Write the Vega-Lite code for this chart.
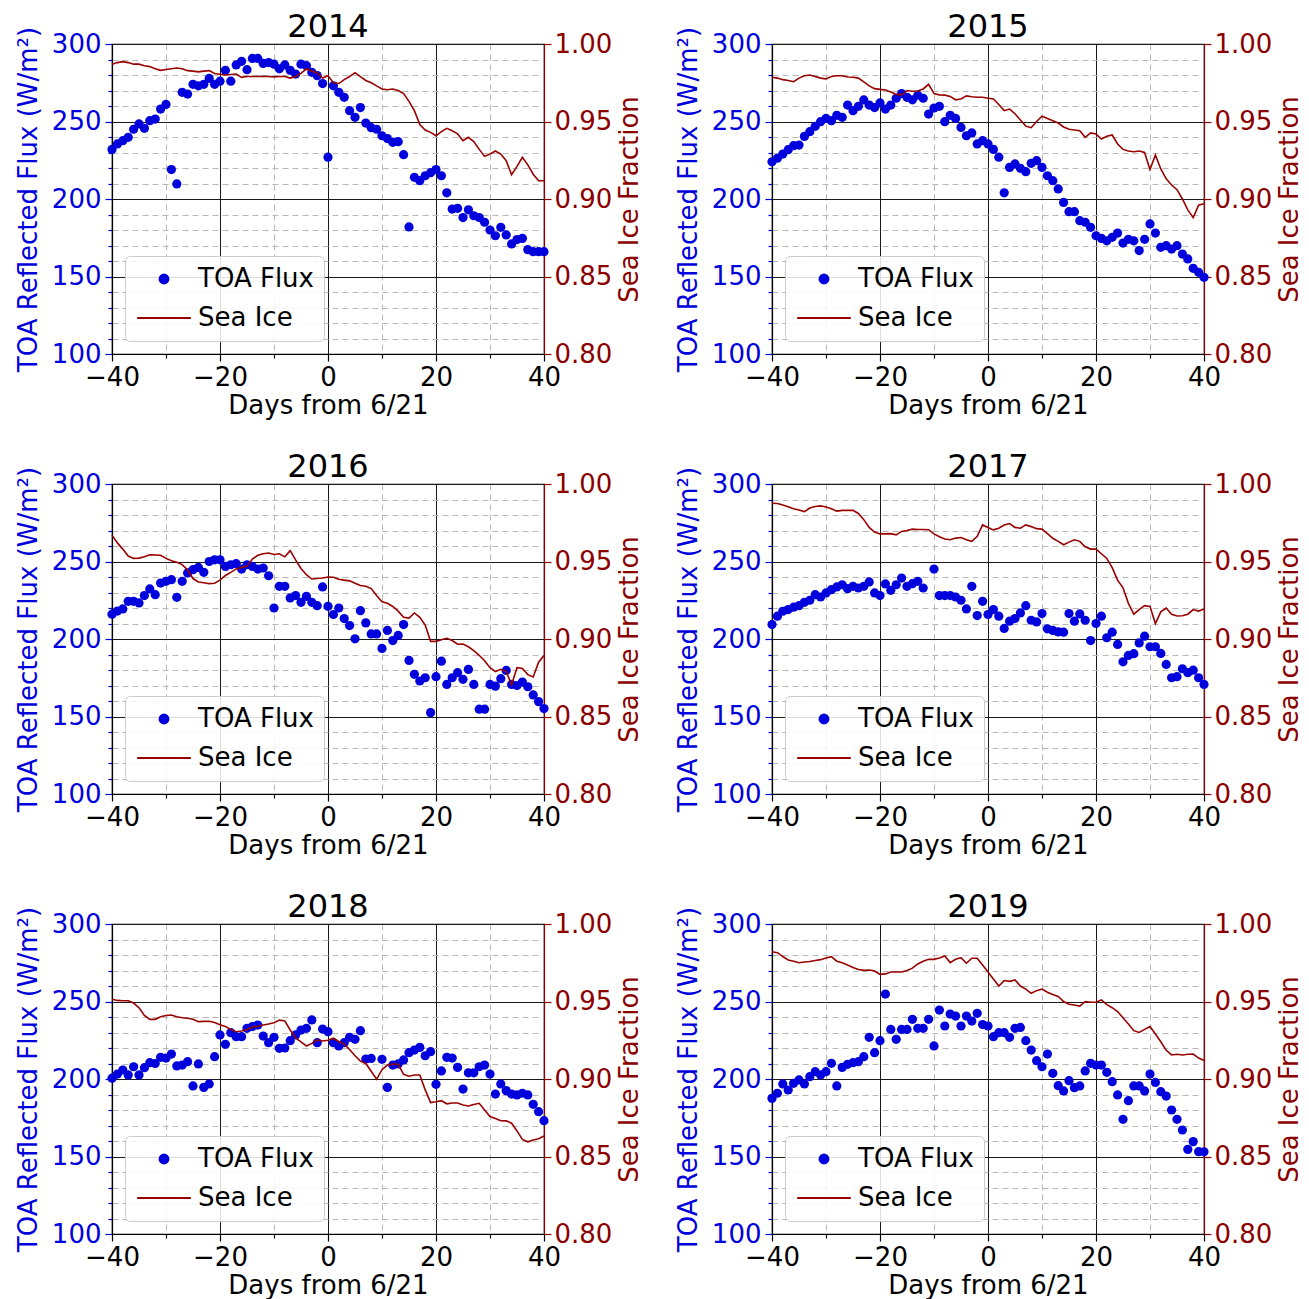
{
  "$schema": "https://vega.github.io/schema/vega-lite/v6.json",
  "background": "white",
  "padding": {"left": 14, "top": 10, "right": 4, "bottom": 0},
  "config": {
    "font": "DejaVu Sans",
    "view": {"stroke": "black", "strokeWidth": 1.2},
    "title": {"fontSize": 32, "fontWeight": "normal", "color": "black", "anchor": "middle", "offset": -18},
    "axis": {"labelFontSize": 26, "titleFontSize": 26, "titleFontWeight": "normal", "labelColor": "black", "titleColor": "black", "domainColor": "black", "tickColor": "black", "domainWidth": 1.2, "tickWidth": 1.2, "labelOverlap": false, "labelFlush": false}
  },
  "data": {"values": [
    {"yr":2014,"d":-40,"f":232,"s":0.987},{"yr":2014,"d":-39,"f":235.5,"s":0.988},{"yr":2014,"d":-38,"f":237.6,"s":0.9886},{"yr":2014,"d":-37,"f":239.8,"s":0.988},{"yr":2014,"d":-36,"f":245,"s":0.987},{"yr":2014,"d":-35,"f":248.4,"s":0.987},{"yr":2014,"d":-34,"f":245.6,"s":0.986},{"yr":2014,"d":-33,"f":250.5,"s":0.9854},{"yr":2014,"d":-32,"f":251.6,"s":0.984},{"yr":2014,"d":-31,"f":258,"s":0.983},{"yr":2014,"d":-30,"f":261,"s":0.9835},{"yr":2014,"d":-29,"f":219,"s":0.984},{"yr":2014,"d":-28,"f":209.7,"s":0.9845},{"yr":2014,"d":-27,"f":268.8,"s":0.984},{"yr":2014,"d":-26,"f":267.7,"s":0.9828},{"yr":2014,"d":-25,"f":274,"s":0.9825},{"yr":2014,"d":-24,"f":273,"s":0.982},{"yr":2014,"d":-23,"f":274,"s":0.9825},{"yr":2014,"d":-22,"f":277.8,"s":0.9828},{"yr":2014,"d":-21,"f":274,"s":0.981},{"yr":2014,"d":-20,"f":276,"s":0.9805},{"yr":2014,"d":-19,"f":283,"s":0.98},{"yr":2014,"d":-18,"f":276,"s":0.9803},{"yr":2014,"d":-17,"f":286.5,"s":0.9806},{"yr":2014,"d":-16,"f":288.8,"s":0.9785},{"yr":2014,"d":-15,"f":283.4,"s":0.979},{"yr":2014,"d":-14,"f":290.7,"s":0.979},{"yr":2014,"d":-13,"f":290.7,"s":0.979},{"yr":2014,"d":-12,"f":287.5,"s":0.9792},{"yr":2014,"d":-11,"f":288,"s":0.979},{"yr":2014,"d":-10,"f":287,"s":0.9788},{"yr":2014,"d":-9,"f":284,"s":0.979},{"yr":2014,"d":-8,"f":286.5,"s":0.979},{"yr":2014,"d":-7,"f":283,"s":0.978},{"yr":2014,"d":-6,"f":280.6,"s":0.979},{"yr":2014,"d":-5,"f":287,"s":0.981},{"yr":2014,"d":-4,"f":286,"s":0.984},{"yr":2014,"d":-3,"f":281.7,"s":0.9825},{"yr":2014,"d":-2,"f":279.6,"s":0.9815},{"yr":2014,"d":-1,"f":274.5,"s":0.978},{"yr":2014,"d":0,"f":227,"s":0.9795},{"yr":2014,"d":1,"f":273,"s":0.975},{"yr":2014,"d":2,"f":268.8,"s":0.9745},{"yr":2014,"d":3,"f":265.6,"s":0.977},{"yr":2014,"d":4,"f":257,"s":0.979},{"yr":2014,"d":5,"f":252.7,"s":0.9815},{"yr":2014,"d":6,"f":259,"s":0.979},{"yr":2014,"d":7,"f":249,"s":0.9765},{"yr":2014,"d":8,"f":246,"s":0.975},{"yr":2014,"d":9,"f":245,"s":0.973},{"yr":2014,"d":10,"f":240.8,"s":0.971},{"yr":2014,"d":11,"f":239,"s":0.9705},{"yr":2014,"d":12,"f":236.6,"s":0.971},{"yr":2014,"d":13,"f":237,"s":0.97},{"yr":2014,"d":14,"f":228.6,"s":0.968},{"yr":2014,"d":15,"f":182,"s":0.963},{"yr":2014,"d":16,"f":214,"s":0.957},{"yr":2014,"d":17,"f":211.8,"s":0.948},{"yr":2014,"d":18,"f":215,"s":0.9445},{"yr":2014,"d":19,"f":217,"s":0.943},{"yr":2014,"d":20,"f":219,"s":0.9408},{"yr":2014,"d":21,"f":215,"s":0.9435},{"yr":2014,"d":22,"f":204,"s":0.9456},{"yr":2014,"d":23,"f":193.5,"s":0.944},{"yr":2014,"d":24,"f":194,"s":0.942},{"yr":2014,"d":25,"f":188,"s":0.9376},{"yr":2014,"d":26,"f":193,"s":0.9398},{"yr":2014,"d":27,"f":189.2,"s":0.937},{"yr":2014,"d":28,"f":188,"s":0.932},{"yr":2014,"d":29,"f":185,"s":0.9275},{"yr":2014,"d":30,"f":180,"s":0.929},{"yr":2014,"d":31,"f":176.3,"s":0.931},{"yr":2014,"d":32,"f":181.7,"s":0.929},{"yr":2014,"d":33,"f":176.8,"s":0.9247},{"yr":2014,"d":34,"f":171,"s":0.9157},{"yr":2014,"d":35,"f":173.8,"s":0.921},{"yr":2014,"d":36,"f":174.6,"s":0.9269},{"yr":2014,"d":37,"f":167.3,"s":0.922},{"yr":2014,"d":38,"f":166,"s":0.916},{"yr":2014,"d":39,"f":166,"s":0.9118},{"yr":2014,"d":40,"f":166,"s":0.9118},

    {"yr":2015,"d":-40,"f":224,"s":0.9785},{"yr":2015,"d":-39,"f":226.3,"s":0.978},{"yr":2015,"d":-38,"f":229,"s":0.977},{"yr":2015,"d":-37,"f":231.8,"s":0.9765},{"yr":2015,"d":-36,"f":234.4,"s":0.9757},{"yr":2015,"d":-35,"f":234.8,"s":0.978},{"yr":2015,"d":-34,"f":240.4,"s":0.9795},{"yr":2015,"d":-33,"f":243.4,"s":0.98},{"yr":2015,"d":-32,"f":246.9,"s":0.979},{"yr":2015,"d":-31,"f":249.9,"s":0.978},{"yr":2015,"d":-30,"f":252,"s":0.9775},{"yr":2015,"d":-29,"f":250.5,"s":0.979},{"yr":2015,"d":-28,"f":254,"s":0.9795},{"yr":2015,"d":-27,"f":252.7,"s":0.9795},{"yr":2015,"d":-26,"f":260.6,"s":0.9787},{"yr":2015,"d":-25,"f":257,"s":0.9785},{"yr":2015,"d":-24,"f":259.8,"s":0.978},{"yr":2015,"d":-23,"f":263.9,"s":0.9755},{"yr":2015,"d":-22,"f":260.6,"s":0.973},{"yr":2015,"d":-21,"f":259,"s":0.9712},{"yr":2015,"d":-20,"f":262,"s":0.9707},{"yr":2015,"d":-19,"f":258,"s":0.9703},{"yr":2015,"d":-18,"f":260.6,"s":0.969},{"yr":2015,"d":-17,"f":265,"s":0.9675},{"yr":2015,"d":-16,"f":268,"s":0.9672},{"yr":2015,"d":-15,"f":265.6,"s":0.97},{"yr":2015,"d":-14,"f":264,"s":0.9695},{"yr":2015,"d":-13,"f":267,"s":0.9697},{"yr":2015,"d":-12,"f":265,"s":0.971},{"yr":2015,"d":-11,"f":254.8,"s":0.974},{"yr":2015,"d":-10,"f":258.7,"s":0.968},{"yr":2015,"d":-9,"f":259.8,"s":0.9672},{"yr":2015,"d":-8,"f":249.9,"s":0.967},{"yr":2015,"d":-7,"f":254,"s":0.9662},{"yr":2015,"d":-6,"f":252,"s":0.964},{"yr":2015,"d":-5,"f":246.2,"s":0.9645},{"yr":2015,"d":-4,"f":240.8,"s":0.9665},{"yr":2015,"d":-3,"f":242.6,"s":0.966},{"yr":2015,"d":-2,"f":235.5,"s":0.9656},{"yr":2015,"d":-1,"f":237.6,"s":0.9656},{"yr":2015,"d":0,"f":235.5,"s":0.965},{"yr":2015,"d":1,"f":232,"s":0.9645},{"yr":2015,"d":2,"f":227,"s":0.961},{"yr":2015,"d":3,"f":204,"s":0.957},{"yr":2015,"d":4,"f":220.4,"s":0.958},{"yr":2015,"d":5,"f":222.6,"s":0.955},{"yr":2015,"d":6,"f":219.8,"s":0.951},{"yr":2015,"d":7,"f":217.6,"s":0.947},{"yr":2015,"d":8,"f":223,"s":0.946},{"yr":2015,"d":9,"f":224.7,"s":0.95},{"yr":2015,"d":10,"f":220.4,"s":0.9534},{"yr":2015,"d":11,"f":215,"s":0.952},{"yr":2015,"d":12,"f":211.8,"s":0.9505},{"yr":2015,"d":13,"f":206.5,"s":0.949},{"yr":2015,"d":14,"f":197.8,"s":0.9465},{"yr":2015,"d":15,"f":191.8,"s":0.945},{"yr":2015,"d":16,"f":191.8,"s":0.9445},{"yr":2015,"d":17,"f":186,"s":0.944},{"yr":2015,"d":18,"f":185,"s":0.9398},{"yr":2015,"d":19,"f":181.7,"s":0.9426},{"yr":2015,"d":20,"f":176.3,"s":0.942},{"yr":2015,"d":21,"f":174.6,"s":0.9387},{"yr":2015,"d":22,"f":173,"s":0.9405},{"yr":2015,"d":23,"f":175.3,"s":0.9413},{"yr":2015,"d":24,"f":178,"s":0.9355},{"yr":2015,"d":25,"f":171.6,"s":0.932},{"yr":2015,"d":26,"f":174,"s":0.931},{"yr":2015,"d":27,"f":173,"s":0.9305},{"yr":2015,"d":28,"f":166.7,"s":0.931},{"yr":2015,"d":29,"f":174,"s":0.93},{"yr":2015,"d":30,"f":183.9,"s":0.919},{"yr":2015,"d":31,"f":178,"s":0.9284},{"yr":2015,"d":32,"f":168.8,"s":0.9194},{"yr":2015,"d":33,"f":169.9,"s":0.913},{"yr":2015,"d":34,"f":167.7,"s":0.909},{"yr":2015,"d":35,"f":169.9,"s":0.906},{"yr":2015,"d":36,"f":164.5,"s":0.9},{"yr":2015,"d":37,"f":161.3,"s":0.893},{"yr":2015,"d":38,"f":155.3,"s":0.888},{"yr":2015,"d":39,"f":152.7,"s":0.896},{"yr":2015,"d":40,"f":149.5,"s":0.897},

    {"yr":2016,"d":-40,"f":216,"s":0.967},{"yr":2016,"d":-39,"f":218,"s":0.962},{"yr":2016,"d":-38,"f":219.4,"s":0.958},{"yr":2016,"d":-37,"f":224.3,"s":0.9535},{"yr":2016,"d":-36,"f":224.3,"s":0.952},{"yr":2016,"d":-35,"f":223.3,"s":0.9522},{"yr":2016,"d":-34,"f":228,"s":0.953},{"yr":2016,"d":-33,"f":232.3,"s":0.9543},{"yr":2016,"d":-32,"f":228.6,"s":0.9542},{"yr":2016,"d":-31,"f":236.1,"s":0.954},{"yr":2016,"d":-30,"f":237.2,"s":0.952},{"yr":2016,"d":-29,"f":238.3,"s":0.9505},{"yr":2016,"d":-28,"f":226.9,"s":0.9495},{"yr":2016,"d":-27,"f":237.2,"s":0.948},{"yr":2016,"d":-26,"f":242.6,"s":0.9445},{"yr":2016,"d":-25,"f":244.7,"s":0.939},{"yr":2016,"d":-24,"f":246.2,"s":0.9368},{"yr":2016,"d":-23,"f":243,"s":0.9363},{"yr":2016,"d":-22,"f":250,"s":0.9357},{"yr":2016,"d":-21,"f":251.1,"s":0.936},{"yr":2016,"d":-20,"f":251.1,"s":0.938},{"yr":2016,"d":-19,"f":246.8,"s":0.941},{"yr":2016,"d":-18,"f":247.9,"s":0.943},{"yr":2016,"d":-17,"f":248.6,"s":0.9452},{"yr":2016,"d":-16,"f":245.1,"s":0.9462},{"yr":2016,"d":-15,"f":247.9,"s":0.947},{"yr":2016,"d":-14,"f":246.8,"s":0.9516},{"yr":2016,"d":-13,"f":245.1,"s":0.954},{"yr":2016,"d":-12,"f":245.8,"s":0.955},{"yr":2016,"d":-11,"f":240.8,"s":0.9555},{"yr":2016,"d":-10,"f":220,"s":0.9545},{"yr":2016,"d":-9,"f":234,"s":0.955},{"yr":2016,"d":-8,"f":234,"s":0.953},{"yr":2016,"d":-7,"f":226.5,"s":0.957},{"yr":2016,"d":-6,"f":228,"s":0.951},{"yr":2016,"d":-5,"f":223.7,"s":0.9455},{"yr":2016,"d":-4,"f":227.5,"s":0.9415},{"yr":2016,"d":-3,"f":223.7,"s":0.9387},{"yr":2016,"d":-2,"f":221.5,"s":0.939},{"yr":2016,"d":-1,"f":233.6,"s":0.9394},{"yr":2016,"d":0,"f":221.1,"s":0.94},{"yr":2016,"d":1,"f":215.8,"s":0.9398},{"yr":2016,"d":2,"f":220,"s":0.9385},{"yr":2016,"d":3,"f":213.2,"s":0.938},{"yr":2016,"d":4,"f":208.7,"s":0.9375},{"yr":2016,"d":5,"f":200.1,"s":0.936},{"yr":2016,"d":6,"f":218.3,"s":0.9345},{"yr":2016,"d":7,"f":210.4,"s":0.934},{"yr":2016,"d":8,"f":203.3,"s":0.9325},{"yr":2016,"d":9,"f":203.3,"s":0.928},{"yr":2016,"d":10,"f":193.9,"s":0.924},{"yr":2016,"d":11,"f":205.5,"s":0.923},{"yr":2016,"d":12,"f":199,"s":0.921},{"yr":2016,"d":13,"f":202.3,"s":0.918},{"yr":2016,"d":14,"f":209.3,"s":0.914},{"yr":2016,"d":15,"f":186.2,"s":0.9135},{"yr":2016,"d":16,"f":177.2,"s":0.9168},{"yr":2016,"d":17,"f":172.9,"s":0.914},{"yr":2016,"d":18,"f":175,"s":0.909},{"yr":2016,"d":19,"f":152.5,"s":0.8985},{"yr":2016,"d":20,"f":175.7,"s":0.8985},{"yr":2016,"d":21,"f":185.7,"s":0.8995},{"yr":2016,"d":22,"f":170.7,"s":0.9005},{"yr":2016,"d":23,"f":175,"s":0.899},{"yr":2016,"d":24,"f":178.3,"s":0.8966},{"yr":2016,"d":25,"f":174,"s":0.8967},{"yr":2016,"d":26,"f":180.4,"s":0.895},{"yr":2016,"d":27,"f":170.7,"s":0.8925},{"yr":2016,"d":28,"f":154.7,"s":0.8895},{"yr":2016,"d":29,"f":154.7,"s":0.886},{"yr":2016,"d":30,"f":170.7,"s":0.8815},{"yr":2016,"d":31,"f":169.6,"s":0.879},{"yr":2016,"d":32,"f":174.4,"s":0.8804},{"yr":2016,"d":33,"f":179.7,"s":0.879},{"yr":2016,"d":34,"f":170.7,"s":0.8705},{"yr":2016,"d":35,"f":170,"s":0.8815},{"yr":2016,"d":36,"f":172.2,"s":0.881},{"yr":2016,"d":37,"f":169.2,"s":0.877},{"yr":2016,"d":38,"f":163.9,"s":0.8755},{"yr":2016,"d":39,"f":159.6,"s":0.885},{"yr":2016,"d":40,"f":155.1,"s":0.8894},

    {"yr":2017,"d":-40,"f":209.3,"s":0.9876},{"yr":2017,"d":-39,"f":214.7,"s":0.9874},{"yr":2017,"d":-38,"f":217.9,"s":0.9865},{"yr":2017,"d":-37,"f":219,"s":0.9853},{"yr":2017,"d":-36,"f":220.5,"s":0.984},{"yr":2017,"d":-35,"f":221.5,"s":0.9832},{"yr":2017,"d":-34,"f":223.7,"s":0.9822},{"yr":2017,"d":-33,"f":225,"s":0.9845},{"yr":2017,"d":-32,"f":228.6,"s":0.9855},{"yr":2017,"d":-31,"f":227.1,"s":0.9859},{"yr":2017,"d":-30,"f":229.7,"s":0.9852},{"yr":2017,"d":-29,"f":231.8,"s":0.984},{"yr":2017,"d":-28,"f":233.6,"s":0.9825},{"yr":2017,"d":-27,"f":235,"s":0.983},{"yr":2017,"d":-26,"f":232.5,"s":0.983},{"yr":2017,"d":-25,"f":234,"s":0.983},{"yr":2017,"d":-24,"f":232.9,"s":0.981},{"yr":2017,"d":-23,"f":234,"s":0.977},{"yr":2017,"d":-22,"f":236.8,"s":0.972},{"yr":2017,"d":-21,"f":229.7,"s":0.969},{"yr":2017,"d":-20,"f":228,"s":0.9678},{"yr":2017,"d":-19,"f":235.5,"s":0.9678},{"yr":2017,"d":-18,"f":231.4,"s":0.968},{"yr":2017,"d":-17,"f":235,"s":0.9672},{"yr":2017,"d":-16,"f":239.3,"s":0.9694},{"yr":2017,"d":-15,"f":234,"s":0.97},{"yr":2017,"d":-14,"f":235.7,"s":0.9709},{"yr":2017,"d":-13,"f":237.2,"s":0.9706},{"yr":2017,"d":-12,"f":232.9,"s":0.9706},{"yr":2017,"d":-11,"s":0.9705},{"yr":2017,"d":-10,"f":245.1,"s":0.9678},{"yr":2017,"d":-9,"f":228,"s":0.966},{"yr":2017,"d":-8,"f":228,"s":0.9645},{"yr":2017,"d":-7,"f":228,"s":0.964},{"yr":2017,"d":-6,"f":227.1,"s":0.9651},{"yr":2017,"d":-5,"f":225,"s":0.9655},{"yr":2017,"d":-4,"f":219.4,"s":0.964},{"yr":2017,"d":-3,"f":234,"s":0.963},{"yr":2017,"d":-2,"f":215.1,"s":0.9663},{"yr":2017,"d":-1,"f":224.3,"s":0.9736},{"yr":2017,"d":0,"f":215.8,"s":0.972},{"yr":2017,"d":1,"f":219,"s":0.9704},{"yr":2017,"d":2,"f":214.7,"s":0.9715},{"yr":2017,"d":3,"f":206.8,"s":0.9735},{"yr":2017,"d":4,"f":211.5,"s":0.9745},{"yr":2017,"d":5,"f":213.2,"s":0.972},{"yr":2017,"d":6,"f":216.8,"s":0.9715},{"yr":2017,"d":7,"f":221.5,"s":0.9736},{"yr":2017,"d":8,"f":212.1,"s":0.9725},{"yr":2017,"d":9,"f":211,"s":0.9712},{"yr":2017,"d":10,"f":216.4,"s":0.9709},{"yr":2017,"d":11,"f":206.6,"s":0.968},{"yr":2017,"d":12,"f":205.5,"s":0.965},{"yr":2017,"d":13,"f":204.6,"s":0.963},{"yr":2017,"d":14,"f":204.4,"s":0.9608},{"yr":2017,"d":15,"f":216.4,"s":0.9625},{"yr":2017,"d":16,"f":211.5,"s":0.964},{"yr":2017,"d":17,"f":216.2,"s":0.963},{"yr":2017,"d":18,"f":212.1,"s":0.9595},{"yr":2017,"d":19,"f":199,"s":0.958},{"yr":2017,"d":20,"f":210,"s":0.958},{"yr":2017,"d":21,"f":214.7,"s":0.955},{"yr":2017,"d":22,"f":200.8,"s":0.952},{"yr":2017,"d":23,"f":204.4,"s":0.946},{"yr":2017,"d":24,"f":196.5,"s":0.938},{"yr":2017,"d":25,"f":185.3,"s":0.933},{"yr":2017,"d":26,"f":189.4,"s":0.923},{"yr":2017,"d":27,"f":190.5,"s":0.916},{"yr":2017,"d":28,"f":197.5,"s":0.919},{"yr":2017,"d":29,"f":201.8,"s":0.9215},{"yr":2017,"d":30,"f":195,"s":0.921},{"yr":2017,"d":31,"f":195,"s":0.91},{"yr":2017,"d":32,"f":190.7,"s":0.9175},{"yr":2017,"d":33,"f":183.6,"s":0.92},{"yr":2017,"d":34,"f":175,"s":0.916},{"yr":2017,"d":35,"f":175.7,"s":0.9148},{"yr":2017,"d":36,"f":180.8,"s":0.915},{"yr":2017,"d":37,"f":178.3,"s":0.916},{"yr":2017,"d":38,"f":179.9,"s":0.919},{"yr":2017,"d":39,"f":175,"s":0.918},{"yr":2017,"d":40,"f":170.7,"s":0.9193},

    {"yr":2018,"d":-40,"f":200.5,"s":0.9514},{"yr":2018,"d":-39,"f":203.2,"s":0.9507},{"yr":2018,"d":-38,"f":205.8,"s":0.9505},{"yr":2018,"d":-37,"f":202.6,"s":0.9505},{"yr":2018,"d":-36,"f":207.9,"s":0.949},{"yr":2018,"d":-35,"f":202.6,"s":0.946},{"yr":2018,"d":-34,"f":207.3,"s":0.941},{"yr":2018,"d":-33,"f":210.5,"s":0.9385},{"yr":2018,"d":-32,"f":210,"s":0.9385},{"yr":2018,"d":-31,"f":214,"s":0.9402},{"yr":2018,"d":-30,"f":213.5,"s":0.941},{"yr":2018,"d":-29,"f":216.1,"s":0.9413},{"yr":2018,"d":-28,"f":208.4,"s":0.9402},{"yr":2018,"d":-27,"f":209,"s":0.9395},{"yr":2018,"d":-26,"f":211.2,"s":0.9392},{"yr":2018,"d":-25,"f":195.5,"s":0.9385},{"yr":2018,"d":-24,"f":209.7,"s":0.937},{"yr":2018,"d":-23,"f":194.6,"s":0.9372},{"yr":2018,"d":-22,"f":196.8,"s":0.9373},{"yr":2018,"d":-21,"f":214.4,"s":0.9365},{"yr":2018,"d":-20,"f":228.4,"s":0.935},{"yr":2018,"d":-19,"f":222.4,"s":0.9338},{"yr":2018,"d":-18,"f":229.9,"s":0.932},{"yr":2018,"d":-17,"f":227.3,"s":0.9305},{"yr":2018,"d":-16,"f":227.3,"s":0.931},{"yr":2018,"d":-15,"f":232.7,"s":0.932},{"yr":2018,"d":-14,"f":233.8,"s":0.9335},{"yr":2018,"d":-13,"f":234.8,"s":0.934},{"yr":2018,"d":-12,"f":227.7,"s":0.9348},{"yr":2018,"d":-11,"f":223.4,"s":0.9355},{"yr":2018,"d":-10,"f":226.9,"s":0.9363},{"yr":2018,"d":-9,"f":219.8,"s":0.938},{"yr":2018,"d":-8,"f":220,"s":0.9375},{"yr":2018,"d":-7,"f":224.7,"s":0.9316},{"yr":2018,"d":-6,"f":228.4,"s":0.9265},{"yr":2018,"d":-5,"f":231.6,"s":0.924},{"yr":2018,"d":-4,"f":232.7,"s":0.9213},{"yr":2018,"d":-3,"f":238.1,"s":0.923},{"yr":2018,"d":-2,"f":223.4,"s":0.9252},{"yr":2018,"d":-1,"f":232.2,"s":0.9245},{"yr":2018,"d":0,"f":230.5,"s":0.925},{"yr":2018,"d":1,"f":223.4,"s":0.9263},{"yr":2018,"d":2,"f":221.3,"s":0.9242},{"yr":2018,"d":3,"f":223.4,"s":0.9225},{"yr":2018,"d":4,"f":226.9,"s":0.919},{"yr":2018,"d":5,"f":225.6,"s":0.915},{"yr":2018,"d":6,"f":231.2,"s":0.9115},{"yr":2018,"d":7,"f":212.9,"s":0.91},{"yr":2018,"d":8,"f":213.3,"s":0.905},{"yr":2018,"d":9,"s":0.8998},{"yr":2018,"d":10,"f":212.7,"s":0.906},{"yr":2018,"d":11,"f":194.6,"s":0.909},{"yr":2018,"d":12,"f":209,"s":0.9097},{"yr":2018,"d":13,"f":209.7,"s":0.9095},{"yr":2018,"d":14,"f":212.3,"s":0.903},{"yr":2018,"d":15,"f":217,"s":0.9018},{"yr":2018,"d":16,"f":218.7,"s":0.9026},{"yr":2018,"d":17,"f":220.4,"s":0.9026},{"yr":2018,"d":18,"f":215,"s":0.893},{"yr":2018,"d":19,"f":217.6,"s":0.8848},{"yr":2018,"d":20,"f":196.6,"s":0.8853},{"yr":2018,"d":21,"f":205.2,"s":0.886},{"yr":2018,"d":22,"f":214,"s":0.884},{"yr":2018,"d":23,"f":213.5,"s":0.8845},{"yr":2018,"d":24,"f":207.5,"s":0.8845},{"yr":2018,"d":25,"f":193.5,"s":0.8832},{"yr":2018,"d":26,"f":204,"s":0.8826},{"yr":2018,"d":27,"f":204,"s":0.8835},{"yr":2018,"d":28,"f":207.9,"s":0.8843},{"yr":2018,"d":29,"f":209,"s":0.88},{"yr":2018,"d":30,"f":203.2,"s":0.8758},{"yr":2018,"d":31,"f":190.3,"s":0.8745},{"yr":2018,"d":32,"f":196.8,"s":0.8731},{"yr":2018,"d":33,"f":192.5,"s":0.873},{"yr":2018,"d":34,"f":190.3,"s":0.8715},{"yr":2018,"d":35,"f":189.7,"s":0.8665},{"yr":2018,"d":36,"f":190.8,"s":0.861},{"yr":2018,"d":37,"f":189.7,"s":0.8595},{"yr":2018,"d":38,"f":183.7,"s":0.8606},{"yr":2018,"d":39,"f":178.9,"s":0.8615},{"yr":2018,"d":40,"f":173.1,"s":0.8632},

    {"yr":2019,"d":-40,"f":187.5,"s":0.9821},{"yr":2019,"d":-39,"f":190.8,"s":0.9815},{"yr":2019,"d":-38,"f":196.8,"s":0.979},{"yr":2019,"d":-37,"f":192.9,"s":0.9768},{"yr":2019,"d":-36,"f":197.2,"s":0.976},{"yr":2019,"d":-35,"f":199.4,"s":0.975},{"yr":2019,"d":-34,"f":196.8,"s":0.9755},{"yr":2019,"d":-33,"f":201.5,"s":0.9758},{"yr":2019,"d":-32,"f":204.7,"s":0.9765},{"yr":2019,"d":-31,"f":202.6,"s":0.977},{"yr":2019,"d":-30,"f":204.7,"s":0.978},{"yr":2019,"d":-29,"f":210.1,"s":0.9789},{"yr":2019,"d":-28,"f":195.5,"s":0.976},{"yr":2019,"d":-27,"f":207.5,"s":0.975},{"yr":2019,"d":-26,"f":209.5,"s":0.9735},{"yr":2019,"d":-25,"f":210.5,"s":0.972},{"yr":2019,"d":-24,"f":211.2,"s":0.9706},{"yr":2019,"d":-23,"f":214.4,"s":0.9701},{"yr":2019,"d":-22,"f":226.9,"s":0.9703},{"yr":2019,"d":-21,"f":217,"s":0.9697},{"yr":2019,"d":-20,"f":224.7,"s":0.9675},{"yr":2019,"d":-19,"f":254.8,"s":0.9678},{"yr":2019,"d":-18,"f":232,"s":0.969},{"yr":2019,"d":-17,"f":225.6,"s":0.969},{"yr":2019,"d":-16,"f":232,"s":0.969},{"yr":2019,"d":-15,"f":232,"s":0.97},{"yr":2019,"d":-14,"f":238.5,"s":0.9715},{"yr":2019,"d":-13,"f":232.7,"s":0.9742},{"yr":2019,"d":-12,"f":232.7,"s":0.976},{"yr":2019,"d":-11,"f":238.5,"s":0.9772},{"yr":2019,"d":-10,"f":221.3,"s":0.9772},{"yr":2019,"d":-9,"f":244.5,"s":0.978},{"yr":2019,"d":-8,"f":234.2,"s":0.9794},{"yr":2019,"d":-7,"f":241.9,"s":0.9751},{"yr":2019,"d":-6,"f":240.6,"s":0.9772},{"yr":2019,"d":-5,"f":234.2,"s":0.9783},{"yr":2019,"d":-4,"f":240.6,"s":0.9747},{"yr":2019,"d":-3,"f":237.4,"s":0.9779},{"yr":2019,"d":-2,"f":242.4,"s":0.9779},{"yr":2019,"d":-1,"f":235.1,"s":0.9735},{"yr":2019,"d":0,"f":234.2,"s":0.969},{"yr":2019,"d":1,"f":227.3,"s":0.9645},{"yr":2019,"d":2,"f":229.9,"s":0.96},{"yr":2019,"d":3,"f":229.9,"s":0.9635},{"yr":2019,"d":4,"f":226.9,"s":0.963},{"yr":2019,"d":5,"f":232.7,"s":0.9639},{"yr":2019,"d":6,"f":233.3,"s":0.96},{"yr":2019,"d":7,"f":224.7,"s":0.958},{"yr":2019,"d":8,"f":218.7,"s":0.9553},{"yr":2019,"d":9,"f":211.8,"s":0.957},{"yr":2019,"d":10,"f":207.9,"s":0.958},{"yr":2019,"d":11,"f":216.1,"s":0.956},{"yr":2019,"d":12,"f":203.7,"s":0.9545},{"yr":2019,"d":13,"f":195.7,"s":0.9533},{"yr":2019,"d":14,"f":192.3,"s":0.95},{"yr":2019,"d":15,"f":198.9,"s":0.9482},{"yr":2019,"d":16,"f":194.4,"s":0.9477},{"yr":2019,"d":17,"f":195.5,"s":0.947},{"yr":2019,"d":18,"f":205.2,"s":0.95},{"yr":2019,"d":19,"f":210.1,"s":0.9495},{"yr":2019,"d":20,"f":209,"s":0.9495},{"yr":2019,"d":21,"f":209,"s":0.951},{"yr":2019,"d":22,"f":204.3,"s":0.948},{"yr":2019,"d":23,"f":198.3,"s":0.946},{"yr":2019,"d":24,"f":189.7,"s":0.9435},{"yr":2019,"d":25,"f":174,"s":0.9395},{"yr":2019,"d":26,"f":186,"s":0.9355},{"yr":2019,"d":27,"f":195.5,"s":0.9312},{"yr":2019,"d":28,"f":195.5,"s":0.93},{"yr":2019,"d":29,"f":192.3,"s":0.932},{"yr":2019,"d":30,"f":203.2,"s":0.9338},{"yr":2019,"d":31,"f":197.8,"s":0.929},{"yr":2019,"d":32,"f":191.8,"s":0.924},{"yr":2019,"d":33,"f":189,"s":0.9185},{"yr":2019,"d":34,"f":180,"s":0.9155},{"yr":2019,"d":35,"f":174,"s":0.916},{"yr":2019,"d":36,"f":167.1,"s":0.9155},{"yr":2019,"d":37,"f":154.6,"s":0.916},{"yr":2019,"d":38,"f":159.6,"s":0.9161},{"yr":2019,"d":39,"f":153.1,"s":0.9135},{"yr":2019,"d":40,"f":153,"s":0.912}
  ]},
  "columns": 2,
  "spacing": {"row": 31, "column": 30},
  "resolve": {"scale": {"color": "independent"}},
  "concat": [
    {
      "title": "2014", "width": 432, "height": 310,
      "transform": [{"filter": "datum.yr === 2014"}],
      "layer": [
        {"mark": {"type": "circle", "size": 85, "opacity": 1},
         "encoding": {
           "x": {"field": "d", "type": "quantitative", "scale": {"domain": [-40, 40], "nice": false},
                 "axis": {"title": "Days from 6/21", "values": [-40,-35,-30,-25,-20,-15,-10,-5,0,5,10,15,20,25,30,35,40], "labelExpr": "datum.value % 20 === 0 ? replace(datum.label, '-', '−') : ''", "grid": true, "gridColor": {"condition": {"test": "datum.value % 20 === 0", "value": "#1a1a1a"}, "value": "#b8b8b8"}, "gridDash": {"condition": {"test": "datum.value % 20 === 0", "value": []}, "value": [6, 4]}, "tickSize": {"condition": {"test": "datum.value % 20 === 0", "value": 7}, "value": 4}, "labelPadding": 3, "titlePadding": 2}},
           "y": {"field": "f", "type": "quantitative", "scale": {"domain": [100, 300], "nice": false, "zero": false},
                 "axis": {"title": "TOA Reflected Flux (W/m²)", "titleColor": "#0000dd", "labelColor": "#0000dd", "tickColor": "#0000dd", "values": [100,110,120,130,140,150,160,170,180,190,200,210,220,230,240,250,260,270,280,290,300], "labelExpr": "datum.value % 50 === 0 ? datum.label : ''", "grid": true, "gridColor": {"condition": {"test": "datum.value % 50 === 0", "value": "#1a1a1a"}, "value": "#b8b8b8"}, "gridDash": {"condition": {"test": "datum.value % 50 === 0", "value": []}, "value": [6, 4]}, "tickSize": {"condition": {"test": "datum.value % 50 === 0", "value": 7}, "value": 4}, "labelPadding": 4, "titlePadding": 10}},
           "color": {"datum": "TOA Flux", "scale": {"domain": ["TOA Flux", "Sea Ice"], "range": ["#0000dd", "#990000"]},
                     "legend": {"title": null, "orient": "bottom-left", "offset": 13, "padding": 10, "rowPadding": 13, "labelFontSize": 26, "labelColor": "black", "symbolOffset": 16, "labelOffset": 21, "symbolSize": 80, "fillColor": "rgba(255,255,255,0.85)", "strokeColor": "#cccccc", "cornerRadius": 5, "labelLimit": 300,
                                "encoding": {"symbols": {"shape": {"condition": {"test": "datum.value === 'Sea Ice'", "value": "M-6,0H6"}, "value": "circle"}, "fill": {"condition": {"test": "datum.value === 'Sea Ice'", "value": "transparent"}, "value": "#0000dd"}, "stroke": {"condition": {"test": "datum.value === 'Sea Ice'", "value": "#990000"}, "value": "transparent"}, "strokeWidth": {"value": 2}, "size": {"value": 80}, "opacity": {"value": 1}}}}}
         }},
        {"mark": {"type": "line", "strokeWidth": 1.6},
         "encoding": {
           "x": {"field": "d", "type": "quantitative"},
           "y": {"field": "s", "type": "quantitative", "scale": {"domain": [0.8, 1.0], "nice": false, "zero": false},
                 "axis": {"orient": "right", "title": "Sea Ice Fraction", "titleAngle": 270, "titleBaseline": "top", "titleColor": "#8b0000", "labelColor": "#8b0000", "tickColor": "#8b0000", "domainColor": "#8b0000", "values": [0.8, 0.85, 0.9, 0.95, 1.0], "format": ".2f", "grid": false, "tickSize": 7, "labelPadding": 3, "titlePadding": 5}},
           "color": {"datum": "Sea Ice"}
         }}
      ],
      "resolve": {"scale": {"y": "independent"}}
    },
    {
      "title": "2015", "width": 432, "height": 310,
      "transform": [{"filter": "datum.yr === 2015"}],
      "layer": [
        {"mark": {"type": "circle", "size": 85, "opacity": 1},
         "encoding": {
           "x": {"field": "d", "type": "quantitative", "scale": {"domain": [-40, 40], "nice": false},
                 "axis": {"title": "Days from 6/21", "values": [-40,-35,-30,-25,-20,-15,-10,-5,0,5,10,15,20,25,30,35,40], "labelExpr": "datum.value % 20 === 0 ? replace(datum.label, '-', '−') : ''", "grid": true, "gridColor": {"condition": {"test": "datum.value % 20 === 0", "value": "#1a1a1a"}, "value": "#b8b8b8"}, "gridDash": {"condition": {"test": "datum.value % 20 === 0", "value": []}, "value": [6, 4]}, "tickSize": {"condition": {"test": "datum.value % 20 === 0", "value": 7}, "value": 4}, "labelPadding": 3, "titlePadding": 2}},
           "y": {"field": "f", "type": "quantitative", "scale": {"domain": [100, 300], "nice": false, "zero": false},
                 "axis": {"title": "TOA Reflected Flux (W/m²)", "titleColor": "#0000dd", "labelColor": "#0000dd", "tickColor": "#0000dd", "values": [100,110,120,130,140,150,160,170,180,190,200,210,220,230,240,250,260,270,280,290,300], "labelExpr": "datum.value % 50 === 0 ? datum.label : ''", "grid": true, "gridColor": {"condition": {"test": "datum.value % 50 === 0", "value": "#1a1a1a"}, "value": "#b8b8b8"}, "gridDash": {"condition": {"test": "datum.value % 50 === 0", "value": []}, "value": [6, 4]}, "tickSize": {"condition": {"test": "datum.value % 50 === 0", "value": 7}, "value": 4}, "labelPadding": 4, "titlePadding": 10}},
           "color": {"datum": "TOA Flux", "scale": {"domain": ["TOA Flux", "Sea Ice"], "range": ["#0000dd", "#990000"]},
                     "legend": {"title": null, "orient": "bottom-left", "offset": 13, "padding": 10, "rowPadding": 13, "labelFontSize": 26, "labelColor": "black", "symbolOffset": 16, "labelOffset": 21, "symbolSize": 80, "fillColor": "rgba(255,255,255,0.85)", "strokeColor": "#cccccc", "cornerRadius": 5, "labelLimit": 300,
                                "encoding": {"symbols": {"shape": {"condition": {"test": "datum.value === 'Sea Ice'", "value": "M-6,0H6"}, "value": "circle"}, "fill": {"condition": {"test": "datum.value === 'Sea Ice'", "value": "transparent"}, "value": "#0000dd"}, "stroke": {"condition": {"test": "datum.value === 'Sea Ice'", "value": "#990000"}, "value": "transparent"}, "strokeWidth": {"value": 2}, "size": {"value": 80}, "opacity": {"value": 1}}}}}
         }},
        {"mark": {"type": "line", "strokeWidth": 1.6},
         "encoding": {
           "x": {"field": "d", "type": "quantitative"},
           "y": {"field": "s", "type": "quantitative", "scale": {"domain": [0.8, 1.0], "nice": false, "zero": false},
                 "axis": {"orient": "right", "title": "Sea Ice Fraction", "titleAngle": 270, "titleBaseline": "top", "titleColor": "#8b0000", "labelColor": "#8b0000", "tickColor": "#8b0000", "domainColor": "#8b0000", "values": [0.8, 0.85, 0.9, 0.95, 1.0], "format": ".2f", "grid": false, "tickSize": 7, "labelPadding": 3, "titlePadding": 5}},
           "color": {"datum": "Sea Ice"}
         }}
      ],
      "resolve": {"scale": {"y": "independent"}}
    },
    {
      "title": "2016", "width": 432, "height": 310,
      "transform": [{"filter": "datum.yr === 2016"}],
      "layer": [
        {"mark": {"type": "circle", "size": 85, "opacity": 1},
         "encoding": {
           "x": {"field": "d", "type": "quantitative", "scale": {"domain": [-40, 40], "nice": false},
                 "axis": {"title": "Days from 6/21", "values": [-40,-35,-30,-25,-20,-15,-10,-5,0,5,10,15,20,25,30,35,40], "labelExpr": "datum.value % 20 === 0 ? replace(datum.label, '-', '−') : ''", "grid": true, "gridColor": {"condition": {"test": "datum.value % 20 === 0", "value": "#1a1a1a"}, "value": "#b8b8b8"}, "gridDash": {"condition": {"test": "datum.value % 20 === 0", "value": []}, "value": [6, 4]}, "tickSize": {"condition": {"test": "datum.value % 20 === 0", "value": 7}, "value": 4}, "labelPadding": 3, "titlePadding": 2}},
           "y": {"field": "f", "type": "quantitative", "scale": {"domain": [100, 300], "nice": false, "zero": false},
                 "axis": {"title": "TOA Reflected Flux (W/m²)", "titleColor": "#0000dd", "labelColor": "#0000dd", "tickColor": "#0000dd", "values": [100,110,120,130,140,150,160,170,180,190,200,210,220,230,240,250,260,270,280,290,300], "labelExpr": "datum.value % 50 === 0 ? datum.label : ''", "grid": true, "gridColor": {"condition": {"test": "datum.value % 50 === 0", "value": "#1a1a1a"}, "value": "#b8b8b8"}, "gridDash": {"condition": {"test": "datum.value % 50 === 0", "value": []}, "value": [6, 4]}, "tickSize": {"condition": {"test": "datum.value % 50 === 0", "value": 7}, "value": 4}, "labelPadding": 4, "titlePadding": 10}},
           "color": {"datum": "TOA Flux", "scale": {"domain": ["TOA Flux", "Sea Ice"], "range": ["#0000dd", "#990000"]},
                     "legend": {"title": null, "orient": "bottom-left", "offset": 13, "padding": 10, "rowPadding": 13, "labelFontSize": 26, "labelColor": "black", "symbolOffset": 16, "labelOffset": 21, "symbolSize": 80, "fillColor": "rgba(255,255,255,0.85)", "strokeColor": "#cccccc", "cornerRadius": 5, "labelLimit": 300,
                                "encoding": {"symbols": {"shape": {"condition": {"test": "datum.value === 'Sea Ice'", "value": "M-6,0H6"}, "value": "circle"}, "fill": {"condition": {"test": "datum.value === 'Sea Ice'", "value": "transparent"}, "value": "#0000dd"}, "stroke": {"condition": {"test": "datum.value === 'Sea Ice'", "value": "#990000"}, "value": "transparent"}, "strokeWidth": {"value": 2}, "size": {"value": 80}, "opacity": {"value": 1}}}}}
         }},
        {"mark": {"type": "line", "strokeWidth": 1.6},
         "encoding": {
           "x": {"field": "d", "type": "quantitative"},
           "y": {"field": "s", "type": "quantitative", "scale": {"domain": [0.8, 1.0], "nice": false, "zero": false},
                 "axis": {"orient": "right", "title": "Sea Ice Fraction", "titleAngle": 270, "titleBaseline": "top", "titleColor": "#8b0000", "labelColor": "#8b0000", "tickColor": "#8b0000", "domainColor": "#8b0000", "values": [0.8, 0.85, 0.9, 0.95, 1.0], "format": ".2f", "grid": false, "tickSize": 7, "labelPadding": 3, "titlePadding": 5}},
           "color": {"datum": "Sea Ice"}
         }}
      ],
      "resolve": {"scale": {"y": "independent"}}
    },
    {
      "title": "2017", "width": 432, "height": 310,
      "transform": [{"filter": "datum.yr === 2017"}],
      "layer": [
        {"mark": {"type": "circle", "size": 85, "opacity": 1},
         "encoding": {
           "x": {"field": "d", "type": "quantitative", "scale": {"domain": [-40, 40], "nice": false},
                 "axis": {"title": "Days from 6/21", "values": [-40,-35,-30,-25,-20,-15,-10,-5,0,5,10,15,20,25,30,35,40], "labelExpr": "datum.value % 20 === 0 ? replace(datum.label, '-', '−') : ''", "grid": true, "gridColor": {"condition": {"test": "datum.value % 20 === 0", "value": "#1a1a1a"}, "value": "#b8b8b8"}, "gridDash": {"condition": {"test": "datum.value % 20 === 0", "value": []}, "value": [6, 4]}, "tickSize": {"condition": {"test": "datum.value % 20 === 0", "value": 7}, "value": 4}, "labelPadding": 3, "titlePadding": 2}},
           "y": {"field": "f", "type": "quantitative", "scale": {"domain": [100, 300], "nice": false, "zero": false},
                 "axis": {"title": "TOA Reflected Flux (W/m²)", "titleColor": "#0000dd", "labelColor": "#0000dd", "tickColor": "#0000dd", "values": [100,110,120,130,140,150,160,170,180,190,200,210,220,230,240,250,260,270,280,290,300], "labelExpr": "datum.value % 50 === 0 ? datum.label : ''", "grid": true, "gridColor": {"condition": {"test": "datum.value % 50 === 0", "value": "#1a1a1a"}, "value": "#b8b8b8"}, "gridDash": {"condition": {"test": "datum.value % 50 === 0", "value": []}, "value": [6, 4]}, "tickSize": {"condition": {"test": "datum.value % 50 === 0", "value": 7}, "value": 4}, "labelPadding": 4, "titlePadding": 10}},
           "color": {"datum": "TOA Flux", "scale": {"domain": ["TOA Flux", "Sea Ice"], "range": ["#0000dd", "#990000"]},
                     "legend": {"title": null, "orient": "bottom-left", "offset": 13, "padding": 10, "rowPadding": 13, "labelFontSize": 26, "labelColor": "black", "symbolOffset": 16, "labelOffset": 21, "symbolSize": 80, "fillColor": "rgba(255,255,255,0.85)", "strokeColor": "#cccccc", "cornerRadius": 5, "labelLimit": 300,
                                "encoding": {"symbols": {"shape": {"condition": {"test": "datum.value === 'Sea Ice'", "value": "M-6,0H6"}, "value": "circle"}, "fill": {"condition": {"test": "datum.value === 'Sea Ice'", "value": "transparent"}, "value": "#0000dd"}, "stroke": {"condition": {"test": "datum.value === 'Sea Ice'", "value": "#990000"}, "value": "transparent"}, "strokeWidth": {"value": 2}, "size": {"value": 80}, "opacity": {"value": 1}}}}}
         }},
        {"mark": {"type": "line", "strokeWidth": 1.6},
         "encoding": {
           "x": {"field": "d", "type": "quantitative"},
           "y": {"field": "s", "type": "quantitative", "scale": {"domain": [0.8, 1.0], "nice": false, "zero": false},
                 "axis": {"orient": "right", "title": "Sea Ice Fraction", "titleAngle": 270, "titleBaseline": "top", "titleColor": "#8b0000", "labelColor": "#8b0000", "tickColor": "#8b0000", "domainColor": "#8b0000", "values": [0.8, 0.85, 0.9, 0.95, 1.0], "format": ".2f", "grid": false, "tickSize": 7, "labelPadding": 3, "titlePadding": 5}},
           "color": {"datum": "Sea Ice"}
         }}
      ],
      "resolve": {"scale": {"y": "independent"}}
    },
    {
      "title": "2018", "width": 432, "height": 310,
      "transform": [{"filter": "datum.yr === 2018"}],
      "layer": [
        {"mark": {"type": "circle", "size": 85, "opacity": 1},
         "encoding": {
           "x": {"field": "d", "type": "quantitative", "scale": {"domain": [-40, 40], "nice": false},
                 "axis": {"title": "Days from 6/21", "values": [-40,-35,-30,-25,-20,-15,-10,-5,0,5,10,15,20,25,30,35,40], "labelExpr": "datum.value % 20 === 0 ? replace(datum.label, '-', '−') : ''", "grid": true, "gridColor": {"condition": {"test": "datum.value % 20 === 0", "value": "#1a1a1a"}, "value": "#b8b8b8"}, "gridDash": {"condition": {"test": "datum.value % 20 === 0", "value": []}, "value": [6, 4]}, "tickSize": {"condition": {"test": "datum.value % 20 === 0", "value": 7}, "value": 4}, "labelPadding": 3, "titlePadding": 2}},
           "y": {"field": "f", "type": "quantitative", "scale": {"domain": [100, 300], "nice": false, "zero": false},
                 "axis": {"title": "TOA Reflected Flux (W/m²)", "titleColor": "#0000dd", "labelColor": "#0000dd", "tickColor": "#0000dd", "values": [100,110,120,130,140,150,160,170,180,190,200,210,220,230,240,250,260,270,280,290,300], "labelExpr": "datum.value % 50 === 0 ? datum.label : ''", "grid": true, "gridColor": {"condition": {"test": "datum.value % 50 === 0", "value": "#1a1a1a"}, "value": "#b8b8b8"}, "gridDash": {"condition": {"test": "datum.value % 50 === 0", "value": []}, "value": [6, 4]}, "tickSize": {"condition": {"test": "datum.value % 50 === 0", "value": 7}, "value": 4}, "labelPadding": 4, "titlePadding": 10}},
           "color": {"datum": "TOA Flux", "scale": {"domain": ["TOA Flux", "Sea Ice"], "range": ["#0000dd", "#990000"]},
                     "legend": {"title": null, "orient": "bottom-left", "offset": 13, "padding": 10, "rowPadding": 13, "labelFontSize": 26, "labelColor": "black", "symbolOffset": 16, "labelOffset": 21, "symbolSize": 80, "fillColor": "rgba(255,255,255,0.85)", "strokeColor": "#cccccc", "cornerRadius": 5, "labelLimit": 300,
                                "encoding": {"symbols": {"shape": {"condition": {"test": "datum.value === 'Sea Ice'", "value": "M-6,0H6"}, "value": "circle"}, "fill": {"condition": {"test": "datum.value === 'Sea Ice'", "value": "transparent"}, "value": "#0000dd"}, "stroke": {"condition": {"test": "datum.value === 'Sea Ice'", "value": "#990000"}, "value": "transparent"}, "strokeWidth": {"value": 2}, "size": {"value": 80}, "opacity": {"value": 1}}}}}
         }},
        {"mark": {"type": "line", "strokeWidth": 1.6},
         "encoding": {
           "x": {"field": "d", "type": "quantitative"},
           "y": {"field": "s", "type": "quantitative", "scale": {"domain": [0.8, 1.0], "nice": false, "zero": false},
                 "axis": {"orient": "right", "title": "Sea Ice Fraction", "titleAngle": 270, "titleBaseline": "top", "titleColor": "#8b0000", "labelColor": "#8b0000", "tickColor": "#8b0000", "domainColor": "#8b0000", "values": [0.8, 0.85, 0.9, 0.95, 1.0], "format": ".2f", "grid": false, "tickSize": 7, "labelPadding": 3, "titlePadding": 5}},
           "color": {"datum": "Sea Ice"}
         }}
      ],
      "resolve": {"scale": {"y": "independent"}}
    },
    {
      "title": "2019", "width": 432, "height": 310,
      "transform": [{"filter": "datum.yr === 2019"}],
      "layer": [
        {"mark": {"type": "circle", "size": 85, "opacity": 1},
         "encoding": {
           "x": {"field": "d", "type": "quantitative", "scale": {"domain": [-40, 40], "nice": false},
                 "axis": {"title": "Days from 6/21", "values": [-40,-35,-30,-25,-20,-15,-10,-5,0,5,10,15,20,25,30,35,40], "labelExpr": "datum.value % 20 === 0 ? replace(datum.label, '-', '−') : ''", "grid": true, "gridColor": {"condition": {"test": "datum.value % 20 === 0", "value": "#1a1a1a"}, "value": "#b8b8b8"}, "gridDash": {"condition": {"test": "datum.value % 20 === 0", "value": []}, "value": [6, 4]}, "tickSize": {"condition": {"test": "datum.value % 20 === 0", "value": 7}, "value": 4}, "labelPadding": 3, "titlePadding": 2}},
           "y": {"field": "f", "type": "quantitative", "scale": {"domain": [100, 300], "nice": false, "zero": false},
                 "axis": {"title": "TOA Reflected Flux (W/m²)", "titleColor": "#0000dd", "labelColor": "#0000dd", "tickColor": "#0000dd", "values": [100,110,120,130,140,150,160,170,180,190,200,210,220,230,240,250,260,270,280,290,300], "labelExpr": "datum.value % 50 === 0 ? datum.label : ''", "grid": true, "gridColor": {"condition": {"test": "datum.value % 50 === 0", "value": "#1a1a1a"}, "value": "#b8b8b8"}, "gridDash": {"condition": {"test": "datum.value % 50 === 0", "value": []}, "value": [6, 4]}, "tickSize": {"condition": {"test": "datum.value % 50 === 0", "value": 7}, "value": 4}, "labelPadding": 4, "titlePadding": 10}},
           "color": {"datum": "TOA Flux", "scale": {"domain": ["TOA Flux", "Sea Ice"], "range": ["#0000dd", "#990000"]},
                     "legend": {"title": null, "orient": "bottom-left", "offset": 13, "padding": 10, "rowPadding": 13, "labelFontSize": 26, "labelColor": "black", "symbolOffset": 16, "labelOffset": 21, "symbolSize": 80, "fillColor": "rgba(255,255,255,0.85)", "strokeColor": "#cccccc", "cornerRadius": 5, "labelLimit": 300,
                                "encoding": {"symbols": {"shape": {"condition": {"test": "datum.value === 'Sea Ice'", "value": "M-6,0H6"}, "value": "circle"}, "fill": {"condition": {"test": "datum.value === 'Sea Ice'", "value": "transparent"}, "value": "#0000dd"}, "stroke": {"condition": {"test": "datum.value === 'Sea Ice'", "value": "#990000"}, "value": "transparent"}, "strokeWidth": {"value": 2}, "size": {"value": 80}, "opacity": {"value": 1}}}}}
         }},
        {"mark": {"type": "line", "strokeWidth": 1.6},
         "encoding": {
           "x": {"field": "d", "type": "quantitative"},
           "y": {"field": "s", "type": "quantitative", "scale": {"domain": [0.8, 1.0], "nice": false, "zero": false},
                 "axis": {"orient": "right", "title": "Sea Ice Fraction", "titleAngle": 270, "titleBaseline": "top", "titleColor": "#8b0000", "labelColor": "#8b0000", "tickColor": "#8b0000", "domainColor": "#8b0000", "values": [0.8, 0.85, 0.9, 0.95, 1.0], "format": ".2f", "grid": false, "tickSize": 7, "labelPadding": 3, "titlePadding": 5}},
           "color": {"datum": "Sea Ice"}
         }}
      ],
      "resolve": {"scale": {"y": "independent"}}
    }
  ]
}
